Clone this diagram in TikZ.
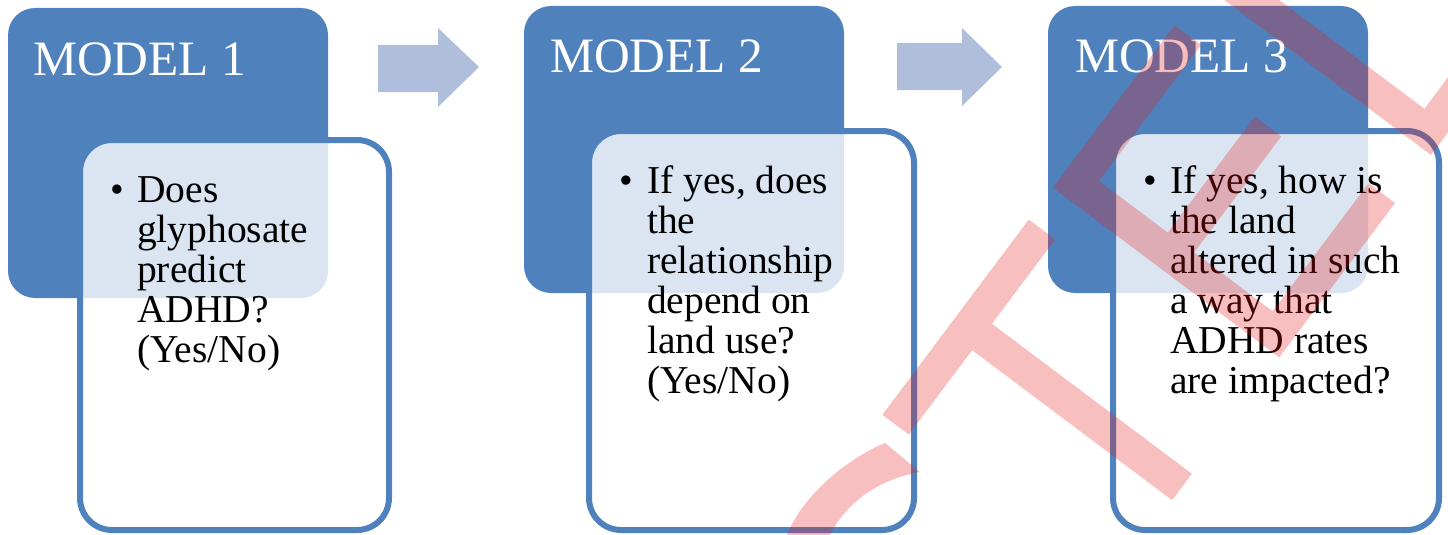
\documentclass[tikz,border=0pt]{standalone}
\usepackage{fontspec}
\setmainfont{Liberation Serif}
\definecolor{mblue}{RGB}{79,129,189}
\definecolor{marrow}{RGB}{175,191,219}
\definecolor{wmred}{RGB}{230,25,25}
\newcommand{\linesof}[1]{\begin{tabular}[t]{@{}l@{}}#1\end{tabular}}
\begin{document}
\begin{tikzpicture}[x=1pt,y=-1pt,
  bluebox/.style={rectangle, fill=mblue, rounded corners=27pt, inner sep=0pt, outer sep=0pt},
  whitebox/.style={rectangle, draw=mblue, line width=6pt, fill=white, fill opacity=0.8, rounded corners=32pt, inner sep=0pt, outer sep=0pt},
  titletext/.style={text=white, font=\fontsize{49.5}{56}\selectfont, anchor=base west, inner sep=0pt},
  bodytext/.style={text=black, font=\fontsize{39.5}{40}\selectfont, anchor=base west, inner sep=0pt},
  bulletmark/.style={text=black, font=\fontsize{39}{40}\selectfont, anchor=base, inner sep=0pt},
  blockarrow/.style={fill=marrow},
  wm/.style={fill=wmred, fill opacity=0.28}]
\useasboundingbox (0,0) rectangle (1448,535);

% blue title boxes
\node[bluebox, minimum width=320pt, minimum height=290pt] (m1) at (168,153) {};
\node[bluebox, minimum width=320pt, minimum height=287pt] (m2) at (684,149.5) {};
\node[bluebox, minimum width=320pt, minimum height=287pt] (m3) at (1208,149.5) {};

% white content boxes
\node[whitebox, minimum width=309pt, minimum height=390pt] (w1) at (234.5,335) {};
\node[whitebox, minimum width=325pt, minimum height=399pt] (w2) at (751.5,330.5) {};
\node[whitebox, minimum width=326pt, minimum height=399pt] (w3) at (1276,330.5) {};

% block arrows
\fill[blockarrow] (378,45) -- (438,45) -- (438,28) -- (479,67) -- (438,107) -- (438,92) -- (378,92) -- cycle;
\fill[blockarrow] (897,43) -- (962,43) -- (962,28) -- (1002,67) -- (962,106) -- (962,90) -- (897,90) -- cycle;

% titles
\node[titletext] (t1) at (33,75) {MODEL 1};
\node[titletext] (t2) at (550,72) {MODEL 2};
\node[titletext] (t3) at (1075,72) {MODEL 3};

% bullets and texts
\node[bulletmark] (b1) at (117,202) {\textbullet};
\node[bodytext] (x1) at (137,202) {\linesof{Does\\glyphosate\\predict\\ADHD?\\(Yes/No)}};
\node[bulletmark] (b2) at (626,193) {\textbullet};
\node[bodytext] (x2) at (647,193) {\linesof{If yes, does\\the\\relationship\\depend on\\land use?\\(Yes/No)}};
\node[bulletmark] (b3) at (1150,193) {\textbullet};
\node[bodytext] (x3) at (1170,193) {\linesof{If yes, how is\\the land\\altered in such\\a way that\\ADHD rates\\are impacted?}};

% watermark
\begin{scope}
\clip (0,0) rectangle (1448,535);
\fill[wm] (885,443) .. controls (855,455) and (805,490) .. (787,535) -- (780,560) -- (822,560) -- (830,535) .. controls (845,505) and (875,480) .. (920,472) -- cycle;
\begin{scope}[shift={(1182pt,-487pt)}, x={(0.6pt,0.8pt)}, y={(-0.8pt,0.6pt)}]
\fill[wm] (-16.5,0) -- (16.5,0) -- (16.5,250) -- (122,250) -- (122,283) -- (-122,283) -- (-122,250) -- (-16.5,250) -- cycle;
\fill[wm] (162,0) -- (355,0) -- (355,33) -- (195,33) -- (195,131) -- (340,131) -- (340,164) -- (195,164) -- (195,250) -- (365,250) -- (365,283) -- (162,283) -- cycle;
\fill[wm] (415,0) -- (600,0) -- (600,33) -- (448,33) -- (448,300) -- (415,300) -- cycle;
\end{scope}
\end{scope}
\end{tikzpicture}
\end{document}
